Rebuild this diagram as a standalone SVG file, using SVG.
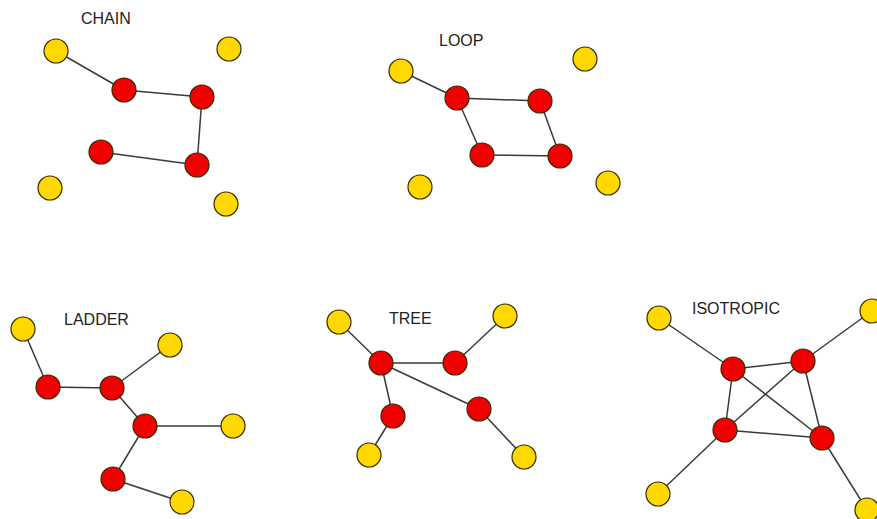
<svg xmlns="http://www.w3.org/2000/svg" width="877" height="519" viewBox="0 0 877 519">
  <style>
    .edge { stroke: #3a3a3a; stroke-width: 1.5; fill: none; }
    .node { stroke: #3a2a00; stroke-width: 1.2; }
    .core { fill: #f00000; }
    .end { fill: #ffd800; }
    .title { font-family: "Liberation Sans", Arial, sans-serif; font-size: 16px; fill: #222; }
  </style>
  <rect width="877" height="519" fill="#fff"/>

  <!-- titles -->
  <g id="titles">
    <text class="title" x="81" y="24">CHAIN</text>
    <text class="title" x="439" y="46">LOOP</text>
    <text class="title" x="64" y="325">LADDER</text>
    <text class="title" x="389" y="324">TREE</text>
    <text class="title" x="692" y="314">ISOTROPIC</text>
  </g>

  <!-- bonds between beads -->
  <g id="connectors">
    <!-- chain -->
    <line class="edge" x1="56" y1="51" x2="124" y2="90"/>
    <line class="edge" x1="124" y1="90" x2="202" y2="97"/>
    <line class="edge" x1="202" y1="97" x2="197" y2="165"/>
    <line class="edge" x1="197" y1="165" x2="101" y2="152"/>
    <!-- loop -->
    <line class="edge" x1="401" y1="71" x2="457" y2="98"/>
    <line class="edge" x1="457" y1="98" x2="540" y2="101"/>
    <line class="edge" x1="457" y1="98" x2="482" y2="155"/>
    <line class="edge" x1="540" y1="101" x2="560" y2="156"/>
    <line class="edge" x1="482" y1="155" x2="560" y2="156"/>
    <!-- ladder -->
    <line class="edge" x1="23" y1="329" x2="48" y2="387"/>
    <line class="edge" x1="48" y1="387" x2="112" y2="388"/>
    <line class="edge" x1="112" y1="388" x2="170" y2="345"/>
    <line class="edge" x1="112" y1="388" x2="145" y2="426"/>
    <line class="edge" x1="145" y1="426" x2="233" y2="426"/>
    <line class="edge" x1="145" y1="426" x2="113" y2="479"/>
    <line class="edge" x1="113" y1="479" x2="182" y2="502"/>
    <!-- tree -->
    <line class="edge" x1="339" y1="322" x2="381" y2="363"/>
    <line class="edge" x1="381" y1="363" x2="455" y2="363"/>
    <line class="edge" x1="455" y1="363" x2="505" y2="316"/>
    <line class="edge" x1="381" y1="363" x2="393" y2="416"/>
    <line class="edge" x1="381" y1="363" x2="479" y2="409"/>
    <line class="edge" x1="393" y1="416" x2="369" y2="455"/>
    <line class="edge" x1="479" y1="409" x2="524" y2="457"/>
    <!-- isotropic -->
    <line class="edge" x1="659" y1="318" x2="733" y2="369"/>
    <line class="edge" x1="872" y1="311" x2="803" y2="361"/>
    <line class="edge" x1="733" y1="369" x2="803" y2="361"/>
    <line class="edge" x1="733" y1="369" x2="725" y2="430"/>
    <line class="edge" x1="733" y1="369" x2="822" y2="438"/>
    <line class="edge" x1="803" y1="361" x2="725" y2="430"/>
    <line class="edge" x1="803" y1="361" x2="822" y2="438"/>
    <line class="edge" x1="725" y1="430" x2="822" y2="438"/>
    <line class="edge" x1="725" y1="430" x2="658" y2="494"/>
    <line class="edge" x1="822" y1="438" x2="867" y2="510"/>
  </g>

  <!-- chain beads -->
  <g id="chain-y1"><circle class="node end" cx="56" cy="51" r="12"/></g>
  <g id="chain-y2"><circle class="node end" cx="229" cy="49" r="12"/></g>
  <g id="chain-y3"><circle class="node end" cx="50" cy="188" r="12"/></g>
  <g id="chain-y4"><circle class="node end" cx="226" cy="204" r="12"/></g>
  <g id="chain-r1"><circle class="node core" cx="124" cy="90" r="12"/></g>
  <g id="chain-r2"><circle class="node core" cx="202" cy="97" r="12"/></g>
  <g id="chain-r3"><circle class="node core" cx="101" cy="152" r="12"/></g>
  <g id="chain-r4"><circle class="node core" cx="197" cy="165" r="12"/></g>

  <!-- loop beads -->
  <g id="loop-y1"><circle class="node end" cx="401" cy="71" r="12"/></g>
  <g id="loop-y2"><circle class="node end" cx="585" cy="59" r="12"/></g>
  <g id="loop-y3"><circle class="node end" cx="420" cy="187" r="12"/></g>
  <g id="loop-y4"><circle class="node end" cx="608" cy="183" r="12"/></g>
  <g id="loop-r1"><circle class="node core" cx="457" cy="98" r="12"/></g>
  <g id="loop-r2"><circle class="node core" cx="540" cy="101" r="12"/></g>
  <g id="loop-r3"><circle class="node core" cx="482" cy="155" r="12"/></g>
  <g id="loop-r4"><circle class="node core" cx="560" cy="156" r="12"/></g>

  <!-- ladder beads -->
  <g id="ladder-y1"><circle class="node end" cx="23" cy="329" r="12"/></g>
  <g id="ladder-y2"><circle class="node end" cx="170" cy="345" r="12"/></g>
  <g id="ladder-y3"><circle class="node end" cx="233" cy="426" r="12"/></g>
  <g id="ladder-y4"><circle class="node end" cx="182" cy="502" r="12"/></g>
  <g id="ladder-r1"><circle class="node core" cx="48" cy="387" r="12"/></g>
  <g id="ladder-r2"><circle class="node core" cx="112" cy="388" r="12"/></g>
  <g id="ladder-r3"><circle class="node core" cx="145" cy="426" r="12"/></g>
  <g id="ladder-r4"><circle class="node core" cx="113" cy="479" r="12"/></g>

  <!-- tree beads -->
  <g id="tree-y1"><circle class="node end" cx="339" cy="322" r="12"/></g>
  <g id="tree-y2"><circle class="node end" cx="505" cy="316" r="12"/></g>
  <g id="tree-y3"><circle class="node end" cx="369" cy="455" r="12"/></g>
  <g id="tree-y4"><circle class="node end" cx="524" cy="457" r="12"/></g>
  <g id="tree-r1"><circle class="node core" cx="381" cy="363" r="12"/></g>
  <g id="tree-r2"><circle class="node core" cx="455" cy="363" r="12"/></g>
  <g id="tree-r3"><circle class="node core" cx="393" cy="416" r="12"/></g>
  <g id="tree-r4"><circle class="node core" cx="479" cy="409" r="12"/></g>

  <!-- isotropic beads -->
  <g id="iso-y1"><circle class="node end" cx="659" cy="318" r="12"/></g>
  <g id="iso-y2"><circle class="node end" cx="872" cy="311" r="12"/></g>
  <g id="iso-y3"><circle class="node end" cx="658" cy="494" r="12"/></g>
  <g id="iso-y4"><circle class="node end" cx="867" cy="510" r="12"/></g>
  <g id="iso-r1"><circle class="node core" cx="733" cy="369" r="12"/></g>
  <g id="iso-r2"><circle class="node core" cx="803" cy="361" r="12"/></g>
  <g id="iso-r3"><circle class="node core" cx="725" cy="430" r="12"/></g>
  <g id="iso-r4"><circle class="node core" cx="822" cy="438" r="12"/></g>
</svg>
